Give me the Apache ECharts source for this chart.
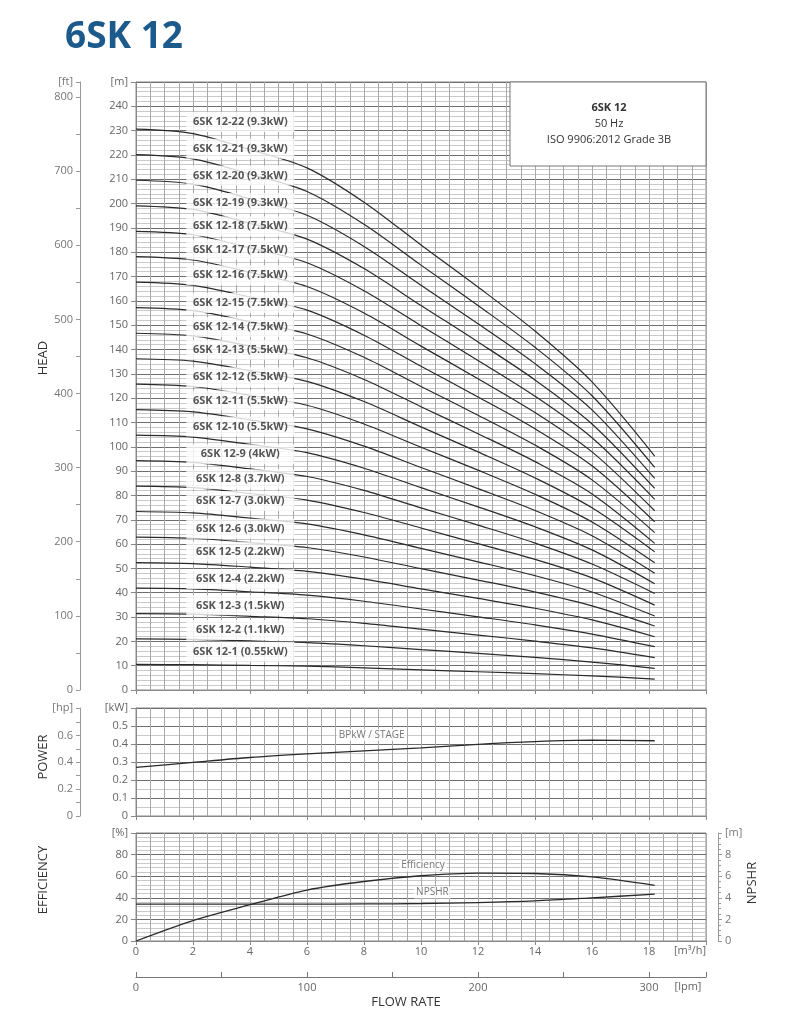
<!DOCTYPE html>
<html><head><meta charset="utf-8">
<script src="https://cdn.jsdelivr.net/npm/echarts@6/dist/echarts.min.js"></script>
<style>html,body{margin:0;padding:0;background:#fff}#c{width:788px;height:1024px}</style>
</head><body><div id="c"></div>
<script>
// ---- data ----
const flow = [0, 2, 4, 6, 8, 10, 12, 14, 16, 18.2]; // m3/h
const models = ['6SK 12-1 (0.55kW)','6SK 12-2 (1.1kW)','6SK 12-3 (1.5kW)','6SK 12-4 (2.2kW)','6SK 12-5 (2.2kW)','6SK 12-6 (3.0kW)','6SK 12-7 (3.0kW)','6SK 12-8 (3.7kW)','6SK 12-9 (4kW)','6SK 12-10 (5.5kW)','6SK 12-11 (5.5kW)','6SK 12-12 (5.5kW)','6SK 12-13 (5.5kW)','6SK 12-14 (7.5kW)','6SK 12-15 (7.5kW)','6SK 12-16 (7.5kW)','6SK 12-17 (7.5kW)','6SK 12-18 (7.5kW)','6SK 12-19 (9.3kW)','6SK 12-20 (9.3kW)','6SK 12-21 (9.3kW)','6SK 12-22 (9.3kW)'];
const h1  = [10.5, 10.4, 10.1, 9.8, 9.1, 8.3, 7.5, 6.7, 5.8, 4.5];
const h2  = [21.0, 20.8, 20.2, 19.5, 18.2, 16.6, 15.1, 13.4, 11.5, 8.9];
const h3  = [31.4, 31.2, 30.3, 29.3, 27.4, 25.0, 22.6, 20.1, 17.3, 13.3];
const h4  = [41.9, 41.6, 40.4, 39.0, 36.5, 33.3, 30.1, 26.8, 23.0, 17.8];
const h5  = [52.4, 52.0, 50.5, 48.8, 45.6, 41.6, 37.7, 33.6, 28.8, 21.9];
const h6  = [62.9, 62.4, 60.6, 58.6, 54.7, 49.9, 45.2, 40.3, 34.6, 26.3];
const h7  = [73.4, 72.8, 70.7, 68.3, 63.8, 58.2, 52.7, 47.0, 40.3, 30.4];
const h8  = [83.8, 83.2, 80.8, 78.1, 73.0, 66.6, 60.2, 53.7, 46.1, 34.9];
const h9  = [94.3, 93.6, 90.9, 87.8, 82.1, 74.9, 67.8, 60.4, 51.8, 39.7];
const h10 = [104.8, 104.0, 101.0, 97.6, 91.2, 83.2, 75.3, 67.1, 57.6, 43.7];
const h11 = [115.3, 114.4, 111.1, 107.4, 100.3, 91.5, 82.8, 73.8, 63.4, 48.0];
const h12 = [125.8, 124.8, 121.2, 117.1, 109.4, 99.8, 90.4, 80.5, 69.1, 52.3];
const h13 = [136.2, 135.2, 131.3, 126.9, 118.6, 108.2, 97.9, 87.2, 74.9, 56.8];
const h14 = [146.7, 145.6, 141.4, 136.6, 127.7, 116.5, 105.4, 93.9, 80.6, 60.3];
const h15 = [157.2, 156.0, 151.5, 146.4, 136.8, 124.8, 113.0, 100.7, 86.4, 64.7];
const h16 = [167.7, 166.4, 161.6, 156.2, 145.9, 133.1, 120.5, 107.4, 92.2, 69.2];
const h17 = [178.2, 176.8, 171.7, 165.9, 155.0, 141.4, 128.0, 114.1, 97.9, 73.7];
const h18 = [188.6, 187.2, 181.8, 175.7, 164.2, 149.8, 135.5, 120.8, 103.7, 78.4];
const h19 = [199.1, 197.6, 191.9, 185.4, 173.3, 158.1, 143.1, 127.5, 109.4, 82.9];
const h20 = [209.6, 208.0, 202.0, 195.2, 182.4, 166.4, 150.6, 134.2, 115.2, 87.0];
const h21 = [220.1, 218.4, 212.1, 205.0, 191.5, 174.7, 158.1, 140.9, 121.0, 91.5];
const h22 = [230.6, 228.8, 222.2, 214.7, 200.6, 183.0, 165.7, 147.6, 126.7, 96.2];
const headCurves = [h1,h2,h3,h4,h5,h6,h7,h8,h9,h10,h11,h12,h13,h14,h15,h16,h17,h18,h19,h20,h21,h22];
// where each model label sits (flow, head in m)
const labelFlow = 3.66;
const labelHeads = [15.7, 24.7, 34.8, 45.6, 56.9, 66.3, 77.7, 86.7, 96.9, 108.3, 119.0, 128.6, 139.9, 149.2, 159.1, 170.5, 181.1, 190.7, 200.2, 211.6, 222.6, 233.6];
const powerPerStage = [0.270, 0.298, 0.325, 0.345, 0.362, 0.378, 0.398, 0.413, 0.421, 0.418]; // kW
const efficiency = [0, 18.9, 33.6, 47.2, 55.1, 60.4, 62.9, 62.5, 59.3, 51.5]; // %
const npshr = [3.42, 3.42, 3.42, 3.42, 3.43, 3.47, 3.56, 3.72, 4.00, 4.34]; // m
const bpLabelPos = [8.27, 0.45];
const effLabelPos = [10.07, 69.8];
const npshrLabelPos = [10.4, 45];
const titleText = '6SK 12';
const infoLines = ['6SK 12', '50 Hz', 'ISO 9906:2012 Grade 3B'];

// ---- chart ----
const FONT = 'Open Sans';
const LBL = {fontFamily: FONT, fontSize: 11, color: '#666'};
const L = 136, R = 82;
const chart = echarts.init(document.getElementById('c'), null, {renderer: 'canvas'});

function xAx(gridIndex, labels) {
  return {
    type: 'value', gridIndex, min: 0, max: 20, interval: 2,
    axisLine: {show: true, lineStyle: {color: '#888', width: 1}},
    axisTick: {show: true, length: 4, lineStyle: {color: '#888'}},
    axisLabel: labels ? Object.assign({show: true, margin: 5, formatter: v => v === 20 ? '' : String(v)}, LBL) : {show: false},
    splitLine: {show: true, lineStyle: {color: '#a8a8a8', width: 1}},
    minorTick: {show: false, splitNumber: 4},
    minorSplitLine: {show: true, lineStyle: {color: '#a8a8a8', width: 1}}
  };
}
function yAx(gridIndex, max, interval, split, topName, fmt) {
  return {
    type: 'value', gridIndex, min: 0, max, interval, position: 'left',
    axisLine: {show: true, lineStyle: {color: '#888'}},
    axisTick: {show: true, length: 5, lineStyle: {color: '#888'}},
    axisLabel: Object.assign({margin: 8, showMaxLabel: true, formatter: v => Math.abs(v - max) < 1e-9 ? topName : fmt(v)}, LBL),
    splitLine: {show: true, lineStyle: {color: '#6e6e6e', width: 1}},
    minorTick: {show: false, splitNumber: split},
    minorSplitLine: {show: true, lineStyle: {color: '#c9c9c9', width: 1}}
  };
}
function outerAx(gridIndex, max, interval, topName, fmt, side, offset, minorSplit) {
  return {
    type: 'value', gridIndex, min: 0, max, interval, position: side, offset,
    axisLine: {show: true, lineStyle: {color: '#999'}},
    axisTick: {show: true, length: 4, lineStyle: {color: '#999'}},
    minorTick: minorSplit ? {show: true, splitNumber: minorSplit, length: 3, lineStyle: {color: '#999'}} : {show: false},
    axisLabel: Object.assign({margin: 7, showMaxLabel: true, formatter: v => (v > max - 1e-6 ? topName : fmt(v))}, LBL, {color: '#777'}),
    splitLine: {show: false}
  };
}

const ftMax = 250 * 3.28084;
const hpMax = 0.6 / 0.7457;
const SMOOTH = 0.3;

const series = [];
headCurves.forEach((hc, i) => {
  series.push({
    type: 'line', name: models[i], xAxisIndex: 0, yAxisIndex: 0,
    data: flow.map((q, j) => [q, hc[j]]),
    smooth: SMOOTH, symbol: 'none', silent: true, z: 3,
    lineStyle: {color: '#2a2a2a', width: 1.2}
  });
});
series.push({
  type: 'scatter', xAxisIndex: 0, yAxisIndex: 0, z: 10, silent: true,
  symbolSize: 1, itemStyle: {color: 'rgba(0,0,0,0)'},
  data: models.map((m, i) => [labelFlow, labelHeads[i], m]),
  label: {show: true, position: 'inside', formatter: p => p.data[2],
    backgroundColor: '#fff', width: 108, height: 20, lineHeight: 20, align: 'center', verticalAlign: 'middle',
    fontFamily: FONT, fontWeight: 'bold', fontSize: 11, color: '#2a2a2a'}
});
series.push({
  type: 'line', xAxisIndex: 1, yAxisIndex: 2, data: flow.map((q, j) => [q, powerPerStage[j]]),
  smooth: SMOOTH, symbol: 'none', silent: true, z: 3, lineStyle: {color: '#2a2a2a', width: 1.3}
});
series.push({
  type: 'line', xAxisIndex: 2, yAxisIndex: 4, data: flow.map((q, j) => [q, efficiency[j]]),
  smooth: SMOOTH, symbol: 'none', silent: true, z: 3, lineStyle: {color: '#2a2a2a', width: 1.3}
});
series.push({
  type: 'line', xAxisIndex: 2, yAxisIndex: 5, data: flow.map((q, j) => [q, npshr[j]]),
  smooth: SMOOTH, symbol: 'none', silent: true, z: 3, lineStyle: {color: '#2a2a2a', width: 1.3}
});
function textMark(xi, yi, pos, text) {
  return {
    type: 'scatter', xAxisIndex: xi, yAxisIndex: yi, z: 10, silent: true,
    symbolSize: 1, itemStyle: {color: 'rgba(0,0,0,0)'}, data: [[pos[0], pos[1], text]],
    label: {show: true, position: 'inside', formatter: p => p.data[2], backgroundColor: '#fff',
      padding: [1, 2], fontFamily: FONT, fontSize: 10, color: '#555'}
  };
}
series.push(textMark(1, 2, bpLabelPos, 'BPkW / STAGE'));
series.push(textMark(2, 4, effLabelPos, 'Efficiency'));
series.push(textMark(2, 4, npshrLabelPos, 'NPSHR'));

const rot = (text, x, y) => ({type: 'text', x, y, rotation: Math.PI / 2, z: 20,
  style: {text, fontFamily: FONT, fontSize: 13, fill: '#333', align: 'center', verticalAlign: 'middle'}});

const option = {
  animation: false,
  backgroundColor: '#fff',
  grid: [
    {left: L, right: R, top: 82, height: 608, show: true, borderColor: '#888', borderWidth: 1},
    {left: L, right: R, top: 708, height: 108, show: true, borderColor: '#888', borderWidth: 1},
    {left: L, right: R, top: 833, height: 108, show: true, borderColor: '#888', borderWidth: 1},
    {left: L, right: R, top: 976, height: 1}
  ],
  xAxis: [
    xAx(0, false), xAx(1, false), xAx(2, true),
    {type: 'value', gridIndex: 3, min: 0, max: 20 * 1000 / 60, interval: 50, position: 'bottom',
      axisLine: {show: true, lineStyle: {color: '#777'}},
      axisTick: {show: true, inside: true, length: 5, lineStyle: {color: '#777'}},
      axisLabel: Object.assign({margin: 5, showMaxLabel: true, formatter: v => (v % 100 === 0 ? String(v) : '')}, LBL),
      splitLine: {show: false}}
  ],
  yAxis: [
    yAx(0, 250, 10, 5, '[m]', v => String(v)),
    outerAx(0, ftMax, 50, '[ft]', v => (Math.round(v) % 100 === 0 ? String(Math.round(v)) : ''), 'left', L - 80),
    yAx(1, 0.6, 0.1, 2, '[kW]', v => String(Math.round(v * 10) / 10)),
    outerAx(1, hpMax, 0.1, '[hp]', v => { const k = Math.round(v * 10); return k % 2 === 0 ? String(k / 10) : ''; }, 'left', L - 80),
    yAx(2, 100, 20, 5, '[%]', v => String(v)),
    outerAx(2, 10, 2, '[m]', v => String(v), 'right', 12, 4),
    {type: 'value', gridIndex: 3, show: false, min: 0, max: 1}
  ],
  series,
  graphic: [
    {type: 'text', x: 65, y: 37, z: 20, style: {text: titleText, fontFamily: FONT, fontWeight: 'bold', fontSize: 37, fill: '#1d5a8c', align: 'left', verticalAlign: 'middle'}},
    {type: 'rect', z: 15, shape: {x: 510, y: 82, width: 196, height: 84}, style: {fill: '#fff', stroke: '#777', lineWidth: 1}},
    {type: 'text', x: 609, y: 108, z: 16, style: {text: infoLines[0], fontFamily: FONT, fontWeight: 'bold', fontSize: 11, fill: '#333', align: 'center', verticalAlign: 'middle'}},
    {type: 'text', x: 609, y: 124, z: 16, style: {text: infoLines[1], fontFamily: FONT, fontSize: 11, fill: '#333', align: 'center', verticalAlign: 'middle'}},
    {type: 'text', x: 609, y: 140, z: 16, style: {text: infoLines[2], fontFamily: FONT, fontSize: 11, fill: '#333', align: 'center', verticalAlign: 'middle'}},
    rot('HEAD', 43, 358),
    rot('POWER', 43, 757),
    rot('EFFICIENCY', 43, 880),
    rot('NPSHR', 752, 883),
    {type: 'text', x: 406, y: 1002, z: 20, style: {text: 'FLOW RATE', fontFamily: FONT, fontSize: 13, fill: '#333', align: 'center', verticalAlign: 'middle'}},
    {type: 'text', x: 690, y: 951, z: 20, style: {text: '[m³/h]', fontFamily: FONT, fontSize: 11, fill: '#666', align: 'center', verticalAlign: 'middle'}},
    {type: 'text', x: 688, y: 987, z: 20, style: {text: '[lpm]', fontFamily: FONT, fontSize: 11, fill: '#666', align: 'center', verticalAlign: 'middle'}}
  ]
};
chart.setOption(option);
</script></body></html>
